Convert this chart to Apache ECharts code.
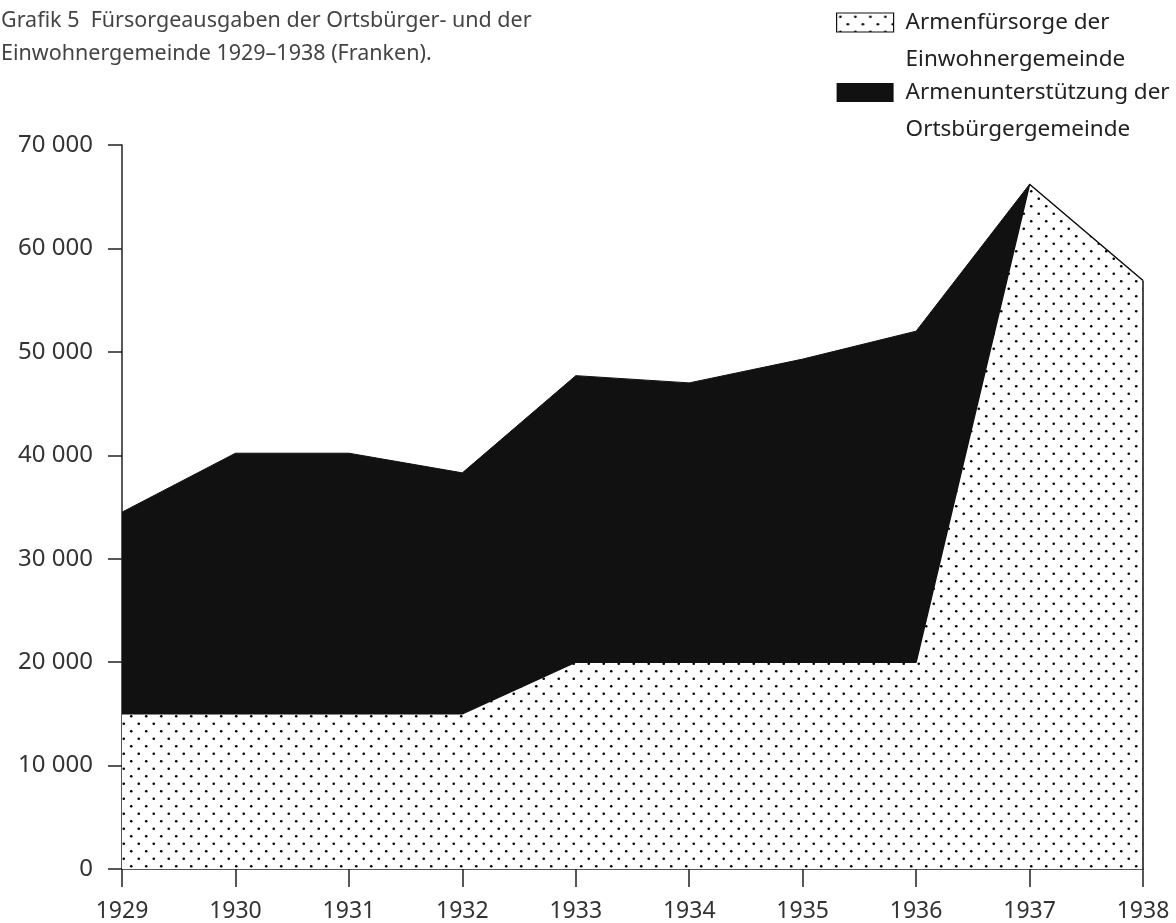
<!DOCTYPE html>
<html>
<head>
<meta charset="utf-8">
<script src="https://cdn.jsdelivr.net/npm/echarts@6/dist/echarts.min.js"></script>
<style>
  html, body { margin: 0; padding: 0; background: #fff; }
  #chart { width: 1176px; height: 923px; }
</style>
</head>
<body>
<div id="chart"></div>
<script>
// Jahre (x-Achse)
const years = ['1929', '1930', '1931', '1932', '1933', '1934', '1935', '1936', '1937', '1938'];
// Armenfürsorge der Einwohnergemeinde (untere Fläche, punktiert)
const einwohner = [15000, 15000, 15000, 15000, 20000, 20000, 20000, 20000, 66200, 56900];
// Armenunterstützung der Ortsbürgergemeinde (obere Fläche, schwarz)
const ortsbuerger = [19500, 25200, 25200, 23300, 27700, 27000, 29300, 32000, 0, 0];
// y-Achse
const yTicks = [0, 10000, 20000, 30000, 40000, 50000, 60000, 70000];

const seriesNames = ['Armenfürsorge der Einwohnergemeinde', 'Armenunterstützung der Ortsbürgergemeinde'];
// leere erste Zeile, damit die erste Textzeile auf Höhe des Symbols steht
const legendLabels = {
  'Armenfürsorge der Einwohnergemeinde': '\nArmenfürsorge der\nEinwohnergemeinde',
  'Armenunterstützung der Ortsbürgergemeinde': '\nArmenunterstützung der\nOrtsbürgergemeinde'
};

const FONT = 'Noto Sans';

// Punktraster als Kachel
const makeDots = () => {
  const c = document.createElement('canvas');
  c.width = 15;
  c.height = 15;
  const ctx = c.getContext('2d');
  ctx.fillStyle = '#fff';
  ctx.fillRect(0, 0, 15, 15);
  ctx.fillStyle = '#000';
  [[3.75, 3.75], [11.25, 11.25]].forEach(([x, y]) => {
    ctx.beginPath();
    ctx.arc(x, y, 1.3, 0, Math.PI * 2);
    ctx.fill();
  });
  return c;
};
const dotPattern = {image: makeDots(), repeat: 'repeat'};

const fmt = v => String(v).replace(/\B(?=(\d{3})+(?!\d))/g, ' ');

const chart = echarts.init(document.getElementById('chart'), null, {renderer: 'canvas'});

const option = {
  backgroundColor: '#fff',
  animation: false,
  title: {
    text: 'Grafik 5  Fürsorgeausgaben der Ortsbürger- und der\nEinwohnergemeinde 1929–1938 (Franken).',
    left: 1,
    top: 4,
    padding: 0,
    textStyle: {fontFamily: FONT, fontSize: 21.5, fontWeight: 'normal', color: '#444', lineHeight: 33}
  },
  legend: {
    orient: 'vertical',
    left: 836,
    top: -33,
    padding: 0,
    itemGap: -41,
    itemWidth: 57,
    itemHeight: 19,
    icon: 'rect',
    selectedMode: false,
    data: [
      {name: seriesNames[0], itemStyle: {color: dotPattern, borderColor: '#111', borderWidth: 1.2}},
      {name: seriesNames[1], itemStyle: {color: '#111'}}
    ],
    formatter: name => legendLabels[name],
    textStyle: {fontFamily: FONT, fontSize: 22.5, color: '#222', lineHeight: 37, padding: [0, 0, 0, 7]}
  },
  grid: {left: 122, right: 33, top: 145, bottom: 52},
  xAxis: {
    type: 'category',
    data: years,
    boundaryGap: false,
    axisLine: {lineStyle: {color: '#222', width: 1.5}},
    axisTick: {length: 18, lineStyle: {color: '#222', width: 1.5}},
    axisLabel: {fontFamily: FONT, fontSize: 23, color: '#333', margin: 31},
    splitLine: {show: false}
  },
  yAxis: {
    type: 'value',
    min: yTicks[0],
    max: yTicks[yTicks.length - 1],
    interval: 10000,
    axisLine: {show: true, lineStyle: {color: '#222', width: 1.5}},
    axisTick: {show: true, length: 14, lineStyle: {color: '#222', width: 1.5}},
    axisLabel: {fontFamily: FONT, fontSize: 24, color: '#333', margin: 29, formatter: fmt},
    splitLine: {show: false}
  },
  series: [
    {
      name: seriesNames[0],
      type: 'line',
      stack: 'gesamt',
      data: einwohner,
      symbol: 'none',
      itemStyle: {color: dotPattern},
      lineStyle: {color: '#111', width: 1.5},
      areaStyle: {color: dotPattern, opacity: 1},
      z: 2,
      markLine: {
        silent: true,
        symbol: 'none',
        label: {show: false},
        lineStyle: {color: '#111', width: 1.5, type: 'solid'},
        data: [[
          {coord: [years.length - 1, 0]},
          {coord: [years.length - 1, einwohner[einwohner.length - 1]]}
        ]]
      }
    },
    {
      name: seriesNames[1],
      type: 'line',
      stack: 'gesamt',
      data: ortsbuerger,
      symbol: 'none',
      itemStyle: {color: '#111'},
      lineStyle: {color: '#111', width: 1},
      areaStyle: {color: '#111', opacity: 1},
      z: 1
    }
  ]
};

chart.setOption(option);
</script>
</body>
</html>
